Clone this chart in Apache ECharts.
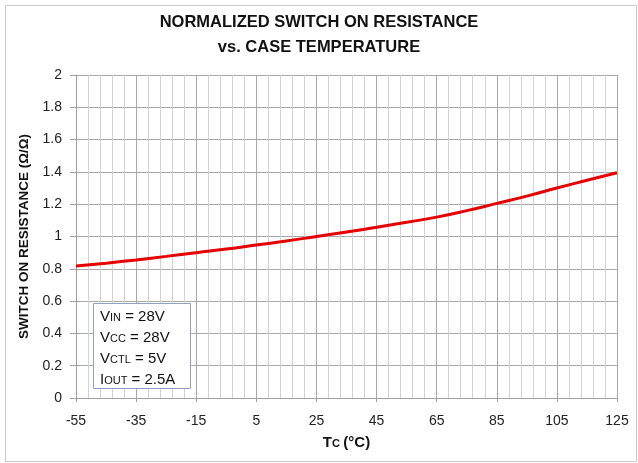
<!DOCTYPE html>
<html><head><meta charset="utf-8">
<script src="https://cdn.jsdelivr.net/npm/echarts@6/dist/echarts.min.js"></script>
<style>html,body{margin:0;padding:0;background:#fff}#c{width:638px;height:463px}</style>
</head><body><div id="c"></div>
<script>
const temps = [-55,-45,-35,-25,-15,-5,5,15,25,35,45,55,65,75,85,95,105,115,125];
const resistance = [0.817,0.835,0.855,0.877,0.900,0.922,0.947,0.972,1.000,1.028,1.057,1.088,1.120,1.160,1.205,1.250,1.300,1.348,1.395];
const xTickLabels = ['-55','-35','-15','5','25','45','65','85','105','125'];
const yTickLabels = ['0','0.2','0.4','0.6','0.8','1','1.2','1.4','1.6','1.8','2'];
const XMIN = -55;

const chart = echarts.init(document.getElementById('c'), null, {renderer:'canvas'});
const font = 'Liberation Sans';
chart.setOption({
  animation:false,
  backgroundColor:'#fff',
  title:{
    text:'NORMALIZED SWITCH ON RESISTANCE\nvs. CASE TEMPERATURE',
    left:'center', top:5,
    textStyle:{fontFamily:font, fontWeight:'bold', fontSize:16.5, color:'#111', lineHeight:25}
  },
  grid:{left:76, right:21, top:75, bottom:65},
  xAxis:{
    type:'value', min:0, max:180, interval:20,
    axisLine:{show:true, lineStyle:{color:'#a0a0a0'}},
    axisTick:{show:true, length:4, lineStyle:{color:'#a0a0a0'}},
    axisLabel:{fontFamily:font, fontSize:14, color:'#222', margin:16,
      formatter:(v)=>xTickLabels[Math.round(v/20)]},
    splitLine:{show:true, lineStyle:{color:'#a8a8a8', width:1}},
    minorTick:{show:false, splitNumber:5},
    minorSplitLine:{show:true, lineStyle:{color:'#d2d2d2', width:1}},
    name:'{t|T}{s|C} {n|(°C)}', nameLocation:'middle', nameGap:37,
    nameTextStyle:{rich:{
      t:{fontFamily:font, fontWeight:'bold', fontSize:15, color:'#111'},
      s:{fontFamily:font, fontWeight:'bold', fontSize:11, color:'#111', padding:[3,0,0,0]},
      n:{fontFamily:font, fontWeight:'bold', fontSize:15, color:'#111'}
    }}
  },
  yAxis:{
    type:'value', min:0, max:2, interval:0.2,
    axisLine:{show:true, lineStyle:{color:'#a0a0a0'}},
    axisTick:{show:true, length:6, lineStyle:{color:'#a0a0a0'}},
    axisLabel:{fontFamily:font, fontSize:14, color:'#222', margin:14,
      formatter:(v)=>yTickLabels[Math.round(v/0.2)]},
    splitLine:{show:true, lineStyle:{color:'#a8a8a8', width:1}},
    name:'SWITCH ON RESISTANCE (Ω/Ω)', nameLocation:'middle', nameGap:38,
    nameTextStyle:{fontFamily:font, fontWeight:'bold', fontSize:13.5, color:'#111'}
  },
  series:[{
    type:'line', smooth:true, symbol:'none',
    data: temps.map((t,i)=>[t - XMIN, resistance[i]]),
    lineStyle:{color:'#e60000', width:3}
  }],
  graphic:[
    {type:'rect', left:3, top:3, shape:{width:631, height:456}, style:{fill:null, stroke:'#c8c8c8', lineWidth:1}, silent:true, z:-1},
    {type:'rect', left:93, top:303, shape:{width:97, height:85}, style:{fill:'#fff', stroke:'#8fa3c0', lineWidth:1}, z:100},
    {type:'text', left:100, top:309, z:101, style:{
      text:'{b|V}{s|IN}{b| = 28V}\n{b|V}{s|CC}{b| = 28V}\n{b|V}{s|CTL}{b| = 5V}\n{b|I}{s|OUT}{b| = 2.5A}',
      rich:{
        b:{fontFamily:font, fontSize:15, fill:'#111', lineHeight:21},
        s:{fontFamily:font, fontSize:11, fill:'#111', lineHeight:21, padding:[3,0,0,0]}
      }
    }}
  ]
});
</script></body></html>
